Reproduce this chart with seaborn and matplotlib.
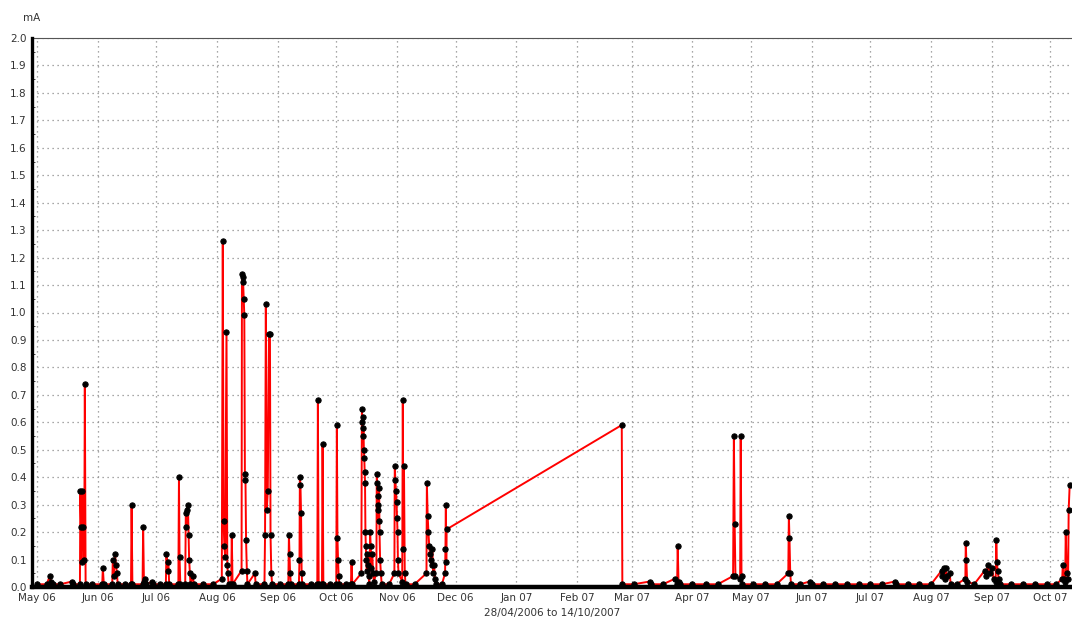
import pandas as pd
import seaborn as sns
import matplotlib
matplotlib.use('Agg')  # Use non-interactive backend
import matplotlib.pyplot as plt
import matplotlib.dates as mdates
from matplotlib.ticker import MultipleLocator, FormatStrFormatter

# Readings: days since 01/05/2006 and current in mA
START = pd.Timestamp('2006-05-01')

days_2006 = [
    0, 5, 6.6, 7.2, 8, 12, 17.9, 18.5,
    22.0, 22.2, 22.6, 23.0, 23.3, 23.6, 24.2, 24.5, 24.9,
    28, 33.4, 33.7, 34.2,
    38.5, 38.8, 39.3, 39.9, 40.4, 40.9, 41.3,
    45, 48.1, 48.4, 48.8,
    54.0, 54.3, 54.7, 55.2, 56, 58.8, 59.3,
    63, 65.9, 66.2, 66.8, 67.2, 67.6,
    72.3, 72.6, 72.9, 73.3,
    75.8, 76.1, 76.4, 76.8, 77.2, 77.5, 77.8, 78.2, 78.5,
    79.7, 80.2, 85, 90,
    94.5, 95.0, 95.4, 95.8, 96.2, 96.9, 97.3, 97.6, 98.0,
    99.3, 99.6, 100,
    104.6, 104.8, 105.1, 105.4, 105.7, 106.0, 106.3, 106.6, 106.9, 107.3, 107.6,
    111.4, 111.8,
    116.3, 116.6, 117.0, 117.5, 118.0, 118.6, 119.1, 119.4, 119.8, 120.2,
    124, 128.5, 128.8, 129.1, 129.4, 129.8,
    133.9, 134.2, 134.4, 134.7, 135.0, 135.3, 135.6,
    140, 143.3, 143.6, 144.0, 145.7, 146.0, 146.4,
    150, 153.0, 153.3, 153.6, 153.9, 154.2, 154.6,
    158, 160.5, 160.8, 161.2,
    165.8, 166.1, 166.3, 166.5, 166.7, 166.9, 167.1, 167.3, 167.5, 167.7,
    167.9, 168.1, 168.3, 168.6, 168.9, 169.2, 169.5, 169.9,
    170.3, 170.6, 171.0, 171.4, 171.8, 172.2,
    173.5, 173.7, 173.9, 174.1, 174.3, 174.5, 174.7, 174.9, 175.1, 175.4, 175.8, 176.2,
    180,
    182.7, 182.9, 183.2, 183.5, 183.8, 184.1, 184.3, 184.5, 184.8,
    186.7, 187.0, 187.3, 187.6, 188.0, 188.4,
    193, 199.1, 199.3, 199.7, 200.1, 200.5, 200.9, 201.3, 201.7, 202.1, 202.5, 203.0, 203.4, 203.8,
    207, 208.6, 208.8, 209.0, 209.2, 209.4,
]
ma_2006 = [
    0.01, 0.01, 0.04, 0.02, 0.01, 0.01, 0.02, 0.01,
    0.01, 0.35, 0.22, 0.09, 0.35, 0.22, 0.10, 0.74, 0.01,
    0.01, 0.01, 0.07, 0.01,
    0.01, 0.10, 0.04, 0.12, 0.08, 0.05, 0.01,
    0.01, 0.01, 0.30, 0.01,
    0.01, 0.22, 0.02, 0.03, 0.01, 0.02, 0.01,
    0.01, 0.01, 0.12, 0.06, 0.09, 0.01,
    0.01, 0.40, 0.11, 0.01,
    0.01, 0.27, 0.22, 0.28, 0.30, 0.19, 0.10, 0.05, 0.01,
    0.04, 0.01, 0.01, 0.01,
    0.03, 1.26, 0.24, 0.15, 0.11, 0.93, 0.08, 0.05, 0.01,
    0.01, 0.19, 0.01,
    0.06, 1.14, 1.13, 1.11, 1.05, 0.99, 0.41, 0.39, 0.17, 0.06, 0.01,
    0.05, 0.01,
    0.01, 0.19, 1.03, 0.28, 0.35, 0.92, 0.92, 0.19, 0.05, 0.01,
    0.01, 0.01, 0.19, 0.12, 0.05, 0.01,
    0.01, 0.10, 0.40, 0.37, 0.27, 0.05, 0.01,
    0.01, 0.01, 0.68, 0.01, 0.01, 0.52, 0.01,
    0.01, 0.01, 0.59, 0.18, 0.10, 0.04, 0.01,
    0.01, 0.01, 0.09, 0.01,
    0.05, 0.65, 0.60, 0.62, 0.55, 0.58, 0.50, 0.47, 0.42, 0.38,
    0.20, 0.15, 0.10, 0.06, 0.12, 0.08, 0.04, 0.01,
    0.20, 0.15, 0.07, 0.12, 0.05, 0.02,
    0.05, 0.41, 0.38, 0.33, 0.30, 0.28, 0.24, 0.36, 0.20, 0.10, 0.05, 0.01,
    0.01,
    0.05, 0.44, 0.39, 0.35, 0.31, 0.25, 0.20, 0.10, 0.05,
    0.02, 0.68, 0.14, 0.44, 0.05, 0.01,
    0.01, 0.05, 0.38, 0.26, 0.20, 0.15, 0.12, 0.10, 0.08, 0.14, 0.05, 0.08, 0.03, 0.01,
    0.01, 0.05, 0.14, 0.30, 0.09, 0.21,
]

days_2007 = [
    298.9, 299.2, 305, 313.2, 314, 320, 326, 327.2, 327.5, 327.9, 328.5,
    335, 342, 348, 355.8, 356.2, 356.6, 357, 359.4, 359.7, 360.1, 360.5,
    366, 372, 378, 384.0, 384.3, 384.6, 385.0, 385.4,
    390, 395, 396, 402, 408, 414, 420, 426, 432, 438.4, 439,
    445, 451, 457, 462.4, 462.8, 463.4, 464.0, 464.5, 465.0, 466.5, 467,
    470, 474.5, 474.7, 475.0, 475.4, 479,
    484.4, 485, 486, 487, 488, 489, 490.0, 490.3, 490.6, 491, 491.5, 492,
    498, 504, 510, 516, 521,
    524.0, 524.3, 524.8, 525.5, 525.8, 526.3, 527.0, 527.3, 527.8,
]
ma_2007 = [
    0.59, 0.01, 0.01, 0.02, 0.01, 0.01, 0.03, 0.01, 0.15, 0.02, 0.01,
    0.01, 0.01, 0.01, 0.04, 0.55, 0.23, 0.04, 0.03, 0.55, 0.04, 0.01,
    0.01, 0.01, 0.01, 0.05, 0.26, 0.18, 0.05, 0.01,
    0.01, 0.02, 0.01, 0.01, 0.01, 0.01, 0.01, 0.01, 0.01, 0.02, 0.01,
    0.01, 0.01, 0.01, 0.06, 0.04, 0.07, 0.03, 0.07, 0.04, 0.05, 0.01,
    0.01, 0.03, 0.16, 0.10, 0.02, 0.01,
    0.06, 0.04, 0.08, 0.05, 0.07, 0.03, 0.02, 0.17, 0.09, 0.06, 0.03, 0.01,
    0.01, 0.01, 0.01, 0.01, 0.01,
    0.03, 0.08, 0.03, 0.02, 0.20, 0.05, 0.03, 0.28, 0.37,
]

df = pd.DataFrame({
    'day': days_2006 + days_2007,
    'mA': ma_2006 + ma_2007,
})
df['date'] = START + pd.to_timedelta(df['day'], unit='D')

sns.set_style('white')
plt.rcParams['font.family'] = ['DejaVu Sans']

fig = plt.figure(figsize=(10.72, 6.37), dpi=100)
ax = fig.add_axes([32 / 1072, 1 - 587 / 637, 1 - 32 / 1072, (587 - 38) / 637])

sns.lineplot(
    data=df, x='date', y='mA', ax=ax,
    estimator=None, sort=False,
    color='red', linewidth=1.4,
    marker='o', markersize=3.8,
    markerfacecolor='black', markeredgecolor='black',
)

ax.set_xlim(START - pd.Timedelta(days=2.5), START + pd.Timedelta(days=529))
ax.set_ylim(0, 2.0)

ax.yaxis.set_major_locator(MultipleLocator(0.1))
ax.yaxis.set_minor_locator(MultipleLocator(0.05))
ax.yaxis.set_major_formatter(FormatStrFormatter('%.1f'))
ax.xaxis.set_major_locator(mdates.MonthLocator())
ax.xaxis.set_major_formatter(mdates.DateFormatter('%b %y'))

ax.grid(True, which='major', linestyle=(0, (1, 3)), color='#8a8a8a', linewidth=0.9)
ax.tick_params(axis='both', which='major', labelsize=7.5, length=4, direction='inout',
               color='black', labelcolor='#333333', pad=2)
ax.tick_params(axis='y', which='minor', length=2, direction='in', left=True)

ax.spines['left'].set_linewidth(2.4)
ax.spines['bottom'].set_linewidth(3.2)
for side in ['left', 'bottom']:
    ax.spines[side].set_color('black')
    ax.spines[side].set_zorder(5)
ax.spines['top'].set_color('#555555')
ax.spines['top'].set_linewidth(0.8)
ax.spines['right'].set_visible(False)

ax.set_ylabel('')
ax.set_xlabel('28/04/2006 to 14/10/2007', fontsize=7.5, color='#333333', labelpad=4)
fig.text(32 / 1072, 1 - 18 / 637, 'mA', fontsize=7.5, color='#333333', ha='center', va='center')

fig.savefig('out.png', dpi=100)
plt.close(fig)
